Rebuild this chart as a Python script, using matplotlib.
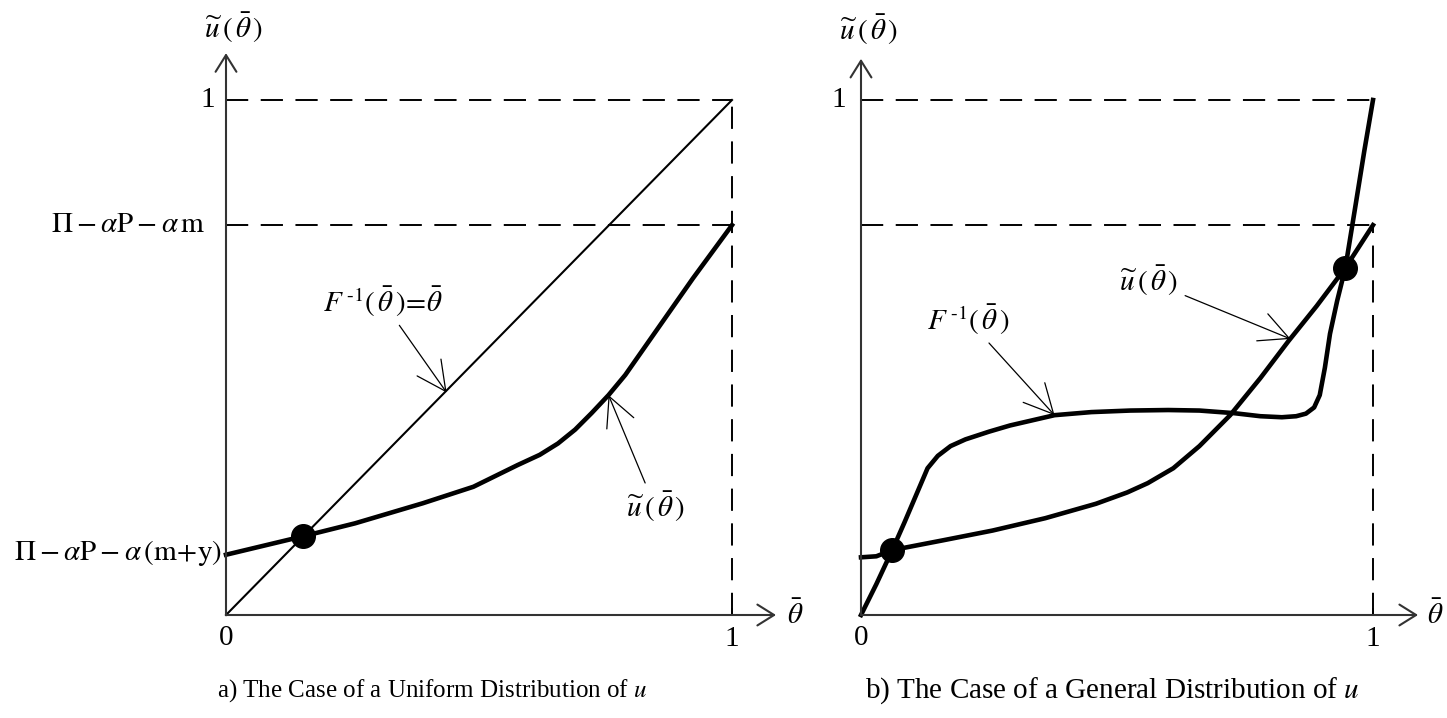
import matplotlib
matplotlib.use("Agg")
import matplotlib.pyplot as plt

plt.rcParams['font.family'] = ['Liberation Serif', 'DejaVu Serif']
plt.rcParams['mathtext.fontset'] = 'stix'
plt.rcParams['lines.scale_dashes'] = False

# ---------------- data ----------------
level_high = 1.0          # u = 1
level_mid = 0.757         # Π − αP − αm
level_low_a = 0.117       # Π − αP − α(m+y)

# panel a
diag_x = [0.0, 1.0]
diag_y = [0.0, 1.0]
ua_x = [0.0, 0.153, 0.255, 0.389, 0.489, 0.576, 0.62, 0.656, 0.69, 0.7225, 0.756, 0.789, 0.856, 0.923, 1.0]
ua_y = [0.117, 0.153, 0.178, 0.217, 0.249, 0.291, 0.311, 0.333, 0.360, 0.392, 0.427, 0.466, 0.560, 0.654, 0.757]
dot_a = ([0.153], [0.153])

# panel b
ub_x = [0.0, 0.03, 0.061, 0.16, 0.257, 0.36, 0.459, 0.52, 0.560, 0.61, 0.661, 0.721, 0.78, 0.835, 0.89, 0.946, 1.0]
ub_y = [0.112, 0.114, 0.126, 0.145, 0.164, 0.188, 0.216, 0.238, 0.256, 0.285, 0.328, 0.388, 0.460, 0.532, 0.600, 0.674, 0.757]
fb_x = [0.0, 0.03, 0.061, 0.085, 0.109, 0.13, 0.150, 0.175, 0.204, 0.25, 0.291, 0.378, 0.45, 0.526, 0.60, 0.661,
        0.728, 0.78, 0.822, 0.85, 0.869, 0.885, 0.896, 0.906, 0.916, 0.93, 0.946, 0.965, 0.983, 1.0]
fb_y = [0.0, 0.06, 0.126, 0.18, 0.236, 0.285, 0.309, 0.328, 0.341, 0.356, 0.368, 0.388, 0.394, 0.397, 0.398, 0.397,
        0.392, 0.386, 0.384, 0.386, 0.391, 0.403, 0.427, 0.48, 0.546, 0.61, 0.674, 0.79, 0.901, 1.0]
dot_b = ([0.061, 0.946], [0.126, 0.674])

ylabel = r'$\widetilde{u}\,(\,\bar{\theta}\,)$'
xlabel = r'$\bar{\theta}$'
lab_mid = r'$\Pi - \alpha\mathrm{P} - \alpha\,\mathrm{m}$'
lab_low = r'$\Pi - \alpha\mathrm{P} - \alpha\,(\mathrm{m\!+\!y})$'
cap_a = r'a) The Case of a Uniform Distribution of $u$'
cap_b = r'b) The Case of a General Distribution of $u$'
ann_fa = r'$F^{\,\text{-}1}(\,\bar{\theta}\,)\!=\!\bar{\theta}$'
ann_fb = r'$F^{\,\text{-}1}(\,\bar{\theta}\,)$'
ann_u = r'$\widetilde{u}\,(\,\bar{\theta}\,)$'

W, H = 1447, 718
fig = plt.figure(figsize=(W / 100, H / 100), dpi=100)
ax_a = fig.add_axes([226 / W, 103 / H, 506 / W, 515 / H])
ax_b = fig.add_axes([861 / W, 103 / H, 512 / W, 515 / H])

AXC = '#333333'
DASH = (0, (16, 9))
FS_TICK = 21
FS_LAB = 21
FS_ANN = 21
FS_CAP_A = 18
FS_CAP_B = 21
ARW = dict(arrowstyle='->,head_length=1.0,head_width=0.5', lw=0.9, color='black', shrinkA=3, shrinkB=0)


def frame(ax, ytip, xtip, ylab_pos, xlab_pos, dash_v_top):
    ax.set_xlim(0, 1)
    ax.set_ylim(0, 1)
    ax.axis('off')
    for tip in [(0, ytip), (xtip, 0)]:
        ax.annotate('', xy=tip, xytext=(0, 0), xycoords='data', annotation_clip=False,
                    arrowprops=dict(arrowstyle='->,head_length=1.2,head_width=0.75',
                                    lw=1.5, color=AXC, shrinkA=0, shrinkB=0))
    ax.plot([0, 1], [level_high, level_high], color='black', lw=1.4, ls=DASH, clip_on=False)
    ax.plot([0, 1], [level_mid, level_mid], color='black', lw=1.4, ls=DASH, clip_on=False)
    ax.plot([1, 1], [0, dash_v_top], color='black', lw=1.4, ls=DASH, clip_on=False)
    ax.plot([1, 1], [0, 0.012], color='black', lw=1.4, clip_on=False)
    ax.text(*ylab_pos, ylabel, ha='center', va='center', fontsize=FS_LAB)
    ax.text(*xlab_pos, xlabel, ha='center', va='center', fontsize=FS_LAB)
    ax.text(0, -0.045, '0', ha='center', va='center', fontsize=FS_TICK)
    ax.text(1, -0.047, '1', ha='center', va='center', fontsize=FS_TICK)


# ---------------- panel a ----------------
frame(ax_a, 1.091, 1.087, (0.014, 1.14), (1.124, 0.0), 1.0)
ax_a.text(-0.022, 1.0, '1', ha='right', va='center', fontsize=FS_TICK)
ax_a.text(-0.041, level_mid, lab_mid, ha='right', va='center', fontsize=FS_TICK)
ax_a.text(-0.008, 0.12, lab_low, ha='right', va='center', fontsize=FS_TICK)
ax_a.plot(diag_x, diag_y, color='black', lw=1.5, clip_on=False)
ax_a.plot(ua_x, ua_y, color='black', lw=3.3, clip_on=False, solid_joinstyle='round')
ax_a.plot(*dot_a, 'o', color='black', ms=17, clip_on=False)
ax_a.annotate(ann_fa, xy=(0.436, 0.432), xytext=(0.310, 0.608), ha='center', va='center',
              fontsize=FS_ANN, arrowprops=ARW)
ax_a.annotate(ann_u, xy=(0.756, 0.427), xytext=(0.848, 0.210), ha='center', va='center',
              fontsize=FS_ANN, arrowprops=ARW)
ax_a.text(0.407, -0.146, cap_a, ha='center', va='center', fontsize=FS_CAP_A)

# ---------------- panel b ----------------
frame(ax_b, 1.080, 1.088, (0.014, 1.136), (1.121, 0.0), level_mid)
ax_b.text(-0.030, 1.0, '1', ha='right', va='center', fontsize=FS_TICK)
ax_b.plot(ub_x, ub_y, color='black', lw=3.3, clip_on=False, solid_joinstyle='round')
ax_b.plot(fb_x, fb_y, color='black', lw=3.3, clip_on=False, solid_joinstyle='round')
ax_b.plot(*dot_b, 'o', color='black', ms=17, clip_on=False, ls='none')
ax_b.annotate(ann_fb, xy=(0.378, 0.388), xytext=(0.209, 0.573), ha='center', va='center',
              fontsize=FS_ANN, arrowprops=ARW)
ax_b.annotate(ann_u, xy=(0.839, 0.536), xytext=(0.5625, 0.649), ha='center', va='center',
              fontsize=FS_ANN, arrowprops=ARW)
ax_b.text(0.49, -0.146, cap_b, ha='center', va='center', fontsize=FS_CAP_B)

fig.savefig('out.png', dpi=100)
